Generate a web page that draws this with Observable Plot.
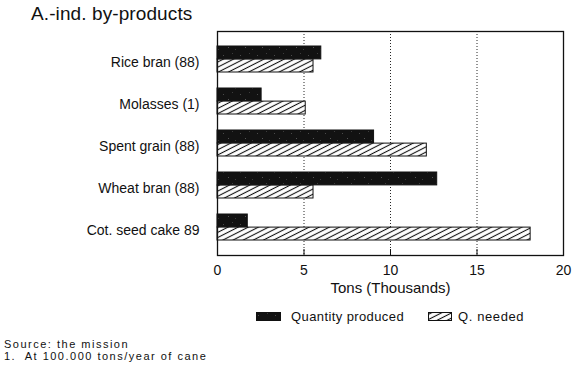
<!DOCTYPE html>
<html>
<head>
<meta charset="utf-8">
<script src="https://cdn.jsdelivr.net/npm/d3@7"></script>
<script src="https://cdn.jsdelivr.net/npm/@observablehq/plot@0.6"></script>
<style>
  body { margin: 0; background: #fff; }
  #wrap { position: relative; width: 575px; height: 373px; background: #fff; font-family: "Liberation Sans", Arial, sans-serif; color: #111; overflow: hidden; }
  #chart { position: absolute; left: 0; top: 0; }
  .abs { position: absolute; white-space: nowrap; line-height: 1; }
</style>
</head>
<body>
<svg width="0" height="0" style="position:absolute">
  <defs>
    <pattern id="hatch" patternUnits="userSpaceOnUse" width="10" height="4.6" patternTransform="rotate(-27)">
      <rect width="10" height="4.6" fill="#fff"/>
      <line x1="0" y1="2.3" x2="10" y2="2.3" stroke="#111" stroke-width="1.1"/>
    </pattern>
    <pattern id="speckle" patternUnits="userSpaceOnUse" width="17" height="13">
      <rect width="17" height="13" fill="#121212"/>
      <rect x="2" y="3" width="1" height="1" fill="#4a4a4a"/>
      <rect x="11" y="1" width="1" height="1" fill="#3c3c3c"/>
      <rect x="7" y="8" width="1" height="1" fill="#555"/>
      <rect x="14" y="10" width="1" height="1" fill="#3c3c3c"/>
    </pattern>
  </defs>
</svg>
<div id="wrap">
  <div id="chart"></div>
  <div class="abs" style="left:31px; top:4px; font-size:19px; letter-spacing:0.1px;">A.-ind. by-products</div>
  <svg class="abs" style="left:256px; top:312px;" width="26" height="9"><rect x="0.5" y="0.5" width="24" height="8" fill="url(#speckle)" stroke="#111"/></svg>
  <div class="abs" style="left:291px; top:310px; font-size:13px; letter-spacing:0.4px;">Quantity produced</div>
  <svg class="abs" style="left:428px; top:312px;" width="26" height="9"><rect x="0.5" y="0.5" width="23" height="8" fill="url(#hatch)" stroke="#111"/></svg>
  <div class="abs" style="left:458px; top:310px; font-size:13px; letter-spacing:0.6px;">Q. needed</div>
  <div class="abs" style="left:4px; top:339px; font-size:11px; letter-spacing:1.5px;">Source: the mission</div>
  <div class="abs" style="left:4px; top:350.5px; font-size:11px; letter-spacing:1.5px;">1.&nbsp; At 100.000 tons/year of cane</div>
</div>
<script>
const categories = ["Rice bran (88)", "Molasses (1)", "Spent grain (88)", "Wheat bran (88)", "Cot. seed cake 89"];
const produced = [6.0, 2.55, 9.05, 12.7, 1.75];
const needed = [5.55, 5.1, 12.1, 5.55, 18.1];
const xTicks = [0, 5, 10, 15, 20];
const xLabel = "Tons (Thousands)";

const data = categories.map((c, i) => ({category: c, produced: produced[i], needed: needed[i]}));

const marginTop = 31, marginBottom = 45, height = 300;
const padInner = 0.38, padOuter = 0.34;
const half = d3.scaleBand().domain(categories)
  .range([marginTop, height - marginBottom])
  .paddingInner(padInner).paddingOuter(padOuter).bandwidth() / 2;

const chart = Plot.plot({
  width: 575,
  height,
  marginLeft: 217,
  marginRight: 12,
  marginTop,
  marginBottom,
  style: {fontFamily: "Liberation Sans, Arial, sans-serif", fontSize: "13px", color: "#111", background: "transparent"},
  x: {domain: [0, 20]},
  y: {domain: categories, paddingInner: padInner, paddingOuter: padOuter},
  marks: [
    Plot.gridX(xTicks.slice(1, -1), {stroke: "#000", strokeOpacity: 0.85, strokeDasharray: "1,2", strokeWidth: 1}),
    Plot.barX(data, {y: "category", x: "produced", insetBottom: half, fill: "url(#speckle)", stroke: "#111", strokeWidth: 1}),
    Plot.barX(data, {y: "category", x: "needed", insetTop: half, fill: "url(#hatch)", stroke: "#111", strokeWidth: 1}),
    Plot.frame({stroke: "#111", strokeWidth: 1.3}),
    Plot.axisX({ticks: xTicks, tickSize: 6, dy: -6, tickFormat: () => "", label: null, stroke: "#111"}),
    Plot.axisX({ticks: xTicks, tickSize: 0, tickPadding: 10, label: null, fontSize: 14}),
    Plot.axisY({tickSize: 0, tickPadding: 18, dy: 3, label: null, fontSize: 14}),
    Plot.text([xLabel], {text: d => d, frameAnchor: "bottom", dy: 37, fontSize: 15})
  ]
});
document.getElementById("chart").appendChild(chart);
</script>
</body>
</html>
